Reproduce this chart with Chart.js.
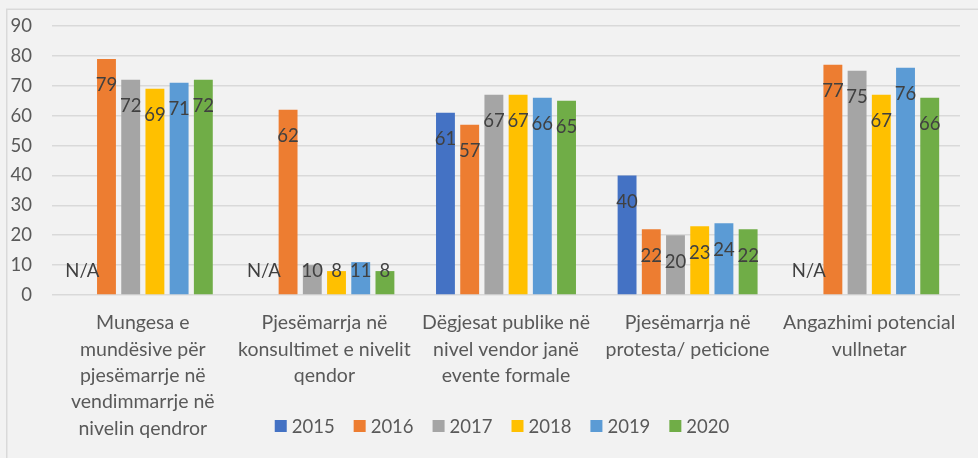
<!DOCTYPE html>
<html>
<head>
<meta charset="utf-8">
<script src="https://cdn.jsdelivr.net/npm/chart.js@4/dist/chart.umd.min.js"></script>
<style>
html,body{margin:0;padding:0;background:#f2f2f2;}
#wrap{width:978px;height:458px;position:relative;}
</style>
</head>
<body>
<div id="wrap"><canvas id="c" width="978" height="458"></canvas></div>
<script>
const categories = [
  ["Mungesa e", "mundësive për", "pjesëmarrje në", "vendimmarrje në", "nivelin qendror"],
  ["Pjesëmarrja në", "konsultimet e nivelit", "qendor"],
  ["Dëgjesat publike në", "nivel vendor janë", "evente formale"],
  ["Pjesëmarrja në", "protesta/ peticione"],
  ["Angazhimi potencial", "vullnetar"]
];
const years = ["2015", "2016", "2017", "2018", "2019", "2020"];
const values2015 = [null, null, 61, 40, null];
const values2016 = [79, 62, 57, 22, 77];
const values2017 = [72, 10, 67, 20, 75];
const values2018 = [69, 8, 67, 23, 67];
const values2019 = [71, 11, 66, 24, 76];
const values2020 = [72, 8, 65, 22, 66];
const yTicks = [0, 10, 20, 30, 40, 50, 60, 70, 80, 90];
const missingLabel = "N/A";

const colors = ["#4472C4", "#ED7D31", "#A5A5A5", "#FFC000", "#5B9BD5", "#70AD47"];
const seriesValues = [values2015, values2016, values2017, values2018, values2019, values2020];
const FONT = "Lato, 'Liberation Sans', sans-serif";

const bgPlugin = {
  id: 'bg',
  beforeDraw(chart) {
    const ctx = chart.ctx;
    ctx.save();
    ctx.fillStyle = '#f2f2f2';
    ctx.fillRect(0, 0, chart.width, chart.height);
    ctx.strokeStyle = '#d9d9d9';
    ctx.lineWidth = 1.5;
    ctx.beginPath();
    ctx.moveTo(6.75, chart.height);
    ctx.lineTo(6.75, 9.25);
    ctx.lineTo(chart.width, 9.25);
    ctx.stroke();
    ctx.restore();
  }
};

const labelPlugin = {
  id: 'barLabels',
  afterDatasetsDraw(chart) {
    const ctx = chart.ctx;
    const yScale = chart.scales.y;
    const base = yScale.getPixelForValue(0);
    ctx.save();
    ctx.font = "18.5px " + FONT;
    ctx.fillStyle = '#404040';
    ctx.textAlign = 'center';
    ctx.textBaseline = 'middle';
    chart.data.datasets.forEach((ds, di) => {
      const meta = chart.getDatasetMeta(di);
      meta.data.forEach((el, i) => {
        const v = ds.data[i];
        const x = el.x;
        if (!isFinite(x)) return;
        let txt, y;
        if (v === null || v === undefined) {
          txt = missingLabel;
          y = base - 23.5;
        } else {
          txt = String(v);
          y = Math.min(yScale.getPixelForValue(v) + 26.5, base - 23.5);
        }
        ctx.fillText(txt, x, y);
      });
    });
    ctx.restore();
  }
};

const legendPlugin = {
  id: 'customLegend',
  afterDraw(chart) {
    const ctx = chart.ctx;
    ctx.save();
    ctx.font = "18.5px " + FONT;
    ctx.textBaseline = 'middle';
    ctx.textAlign = 'left';
    const box = 12, gapText = 5, gapItem = 19;
    const items = chart.data.datasets.map(ds => ({label: ds.label, color: ds.backgroundColor, w: ctx.measureText(ds.label).width}));
    let total = 0;
    items.forEach((it, i) => { total += box + gapText + it.w + (i < items.length - 1 ? gapItem : 0); });
    let x = 502 - total / 2;
    const yc = 426;
    items.forEach(it => {
      ctx.fillStyle = it.color;
      ctx.fillRect(x, yc - box / 2, box, box);
      ctx.fillStyle = '#595959';
      ctx.fillText(it.label, x + box + gapText, yc + 1);
      x += box + gapText + it.w + gapItem;
    });
    ctx.restore();
  }
};

new Chart(document.getElementById('c'), {
  type: 'bar',
  data: {
    labels: categories,
    datasets: years.map((y, i) => ({
      label: y,
      data: seriesValues[i],
      backgroundColor: colors[i],
      borderWidth: 0,
      categoryPercentage: 0.8,
      barPercentage: 0.78
    }))
  },
  options: {
    responsive: false,
    animation: false,
    devicePixelRatio: 1,
    layout: { padding: { left: 8, right: 18, top: 26, bottom: 0 } },
    plugins: {
      legend: { display: false },
      tooltip: { enabled: false }
    },
    scales: {
      x: {
        grid: { display: false, drawTicks: false },
        border: { display: false },
        ticks: {
          color: '#595959',
          font: { family: FONT, size: 19.5, lineHeight: 1.35 },
          padding: 15,
          maxRotation: 0,
          autoSkip: false
        },
        afterFit(scale) { scale.height = 163; }
      },
      y: {
        min: 0, max: 90,
        afterBuildTicks(scale) { scale.ticks = yTicks.map(v => ({ value: v })); },
        grid: { color: '#d9d9d9', lineWidth: 1.5, drawTicks: false },
        border: { display: false },
        ticks: {
          color: '#595959',
          font: { family: FONT, size: 18.5 },
          padding: 20,
          align: 'center'
        },
        afterFit(scale) {
          scale.width = 44;
          scale.paddingTop = 11;
          scale.paddingBottom = 11;
        }
      }
    }
  },
  plugins: [bgPlugin, labelPlugin, legendPlugin]
});
</script>
</body>
</html>
